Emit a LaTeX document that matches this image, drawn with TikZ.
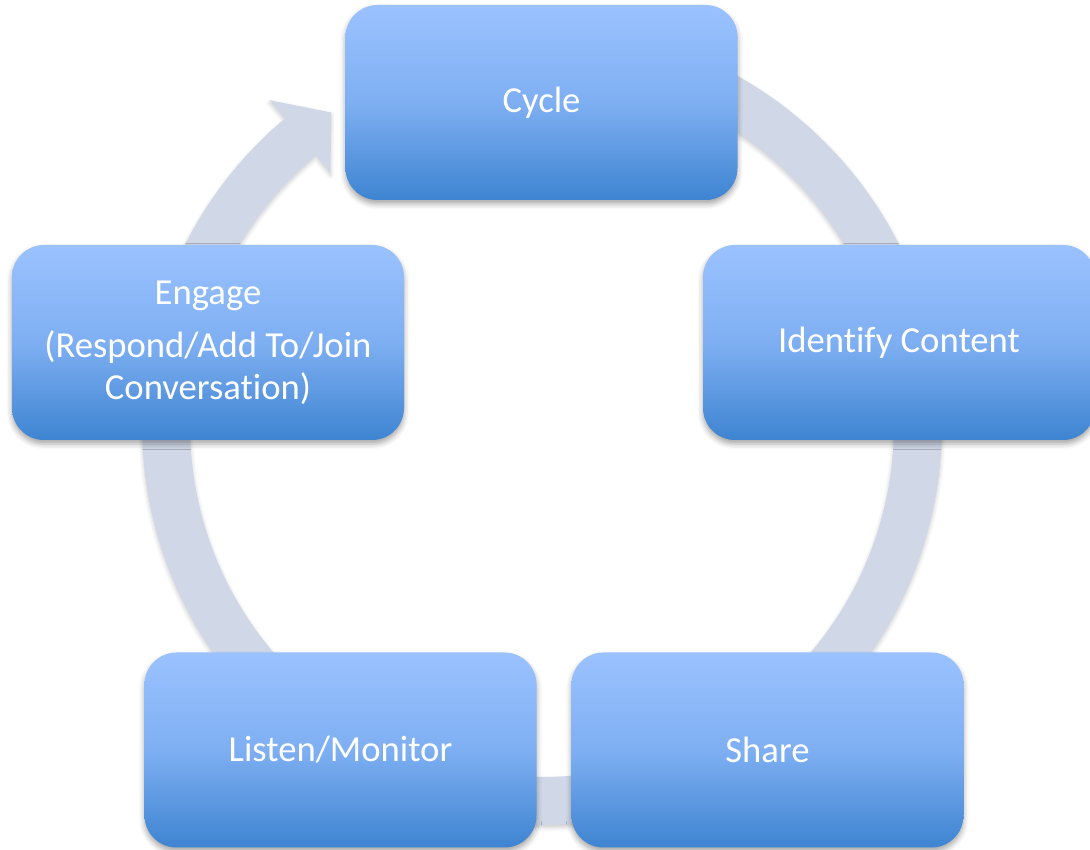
\documentclass[tikz,border=0pt]{standalone}
\usepackage{fontspec}
\setmainfont{Carlito}[RawFeature={-liga;-clig;-calt;-dlig}]
\usetikzlibrary{shadows.blur,calc}
\definecolor{ringc}{RGB}{208,216,231}
\definecolor{boxtop}{RGB}{155,194,255}
\definecolor{boxmid}{RGB}{126,175,242}
\definecolor{boxbot}{RGB}{62,132,209}
\tikzset{
  stepbox/.style={rectangle, rounded corners=24pt, minimum width=294pt, minimum height=146.25pt,
    top color=boxtop, bottom color=boxbot, middle color=boxmid,
    text=white, align=center, inner sep=0pt,
    font=\fontsize{27.5}{31.5}\selectfont,
    blur shadow={shadow xshift=0pt, shadow yshift=-3pt, shadow blur radius=4pt, shadow opacity=35}},
  ringstyle/.style={fill=ringc}
}
\begin{document}
\begin{tikzpicture}[x=0.75pt,y=0.75pt]
\useasboundingbox (0,0) rectangle (1090,850);
\coordinate (c) at (542,425);
% ring with arrowhead
\coordinate (o1) at ($(c)+(90:400)$);
\coordinate (bo) at ($(c)+(130:424)$);
\coordinate (tip) at ($(c)+(124:377)$);
\coordinate (bi) at ($(c)+(130:329)$);
\coordinate (i1) at ($(c)+(130:352)$);
\fill[ringstyle, blur shadow={shadow xshift=0pt, shadow yshift=-2pt, shadow blur radius=3pt, shadow opacity=20}]
  (o1) arc[start angle=90, end angle=-230, radius=400]
  -- (bo) -- (tip) -- (bi) -- (i1)
  arc[start angle=-230, end angle=90, radius=352] -- cycle;
% boxes
\node[stepbox] (cycle) at (541.5,747.5) {Cycle};
\node[stepbox] (identify) at (899,507.5) {Identify Content};
\node[stepbox] (share) at (767.5,100) {Share};
\node[stepbox] (listen) at (340.5,100) {Listen/Monitor};
\node[stepbox] (engage) at (208,507.5) {Engage\\[8pt](Respond/Add To/Join\\Conversation)};
\end{tikzpicture}
\end{document}
